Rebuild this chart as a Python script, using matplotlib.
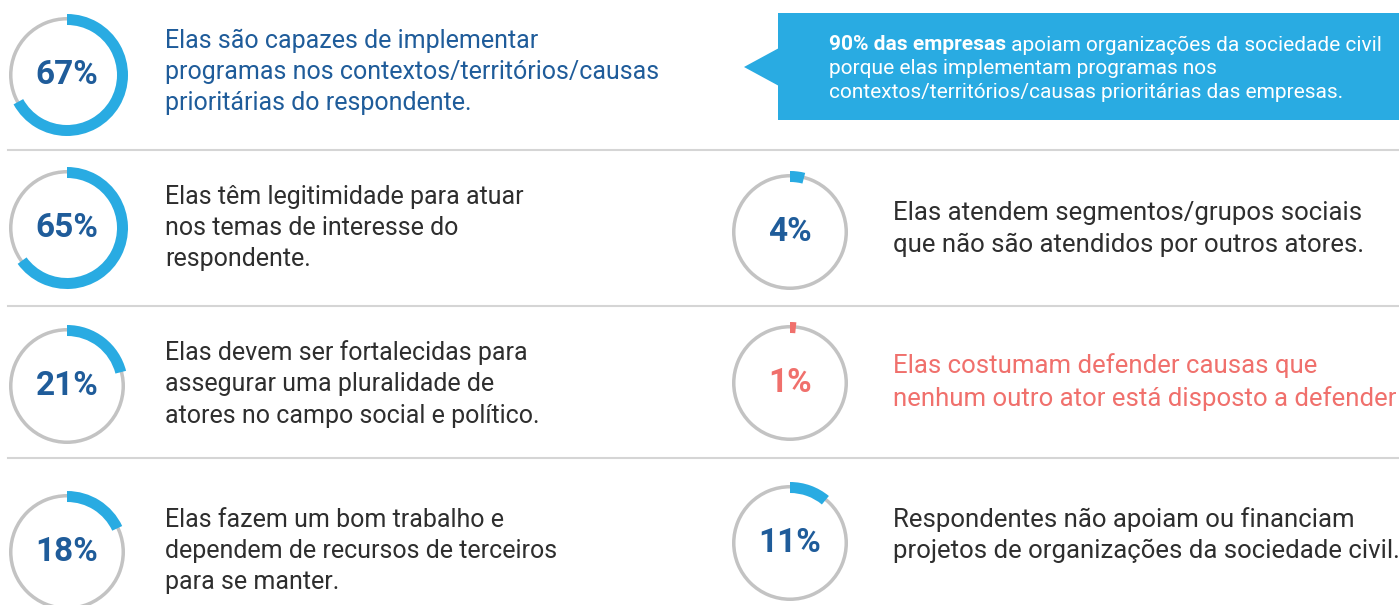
import matplotlib
matplotlib.use("Agg")
import matplotlib.pyplot as plt
from matplotlib.patches import Wedge, Polygon, Rectangle

# ---------------- data ----------------
left_pcts = [67, 65, 21, 18]
left_texts = [
    "Elas são capazes de implementar\nprogramas nos contextos/territórios/causas\nprioritárias do respondente.",
    "Elas têm legitimidade para atuar\nnos temas de interesse do\nrespondente.",
    "Elas devem ser fortalecidas para\nassegurar uma pluralidade de\natores no campo social e político.",
    "Elas fazem um bom trabalho e\ndependem de recursos de terceiros\npara se manter.",
]
right_pcts = [4, 1, 11]
right_texts = [
    "Elas atendem segmentos/grupos sociais\nque não são atendidos por outros atores.",
    "Elas costumam defender causas que\nnenhum outro ator está disposto a defender",
    "Respondentes não apoiam ou financiam\nprojetos de organizações da sociedade civil.",
]
callout_bold = "90% das empresas"
callout_rest = " apoiam organizações da sociedade civil"
callout_lines = ["porque elas implementam programas nos",
                 "contextos/territórios/causas prioritárias das empresas."]

# ---------------- style ----------------
W, H = 1399, 605
BLUE = "#29abe2"
GRAY = "#c3c3c3"
NAVY = "#1f5c9a"
TXT = "#2e2e2e"
RED = "#f0706c"
FONT = "Roboto"
plt.rcParams['font.family'] = [FONT, 'DejaVu Sans']

fig = plt.figure(figsize=(W / 100, H / 100), dpi=100)
ax = fig.add_axes([0, 0, 1, 1])
ax.set_xlim(0, W)
ax.set_ylim(0, H)
ax.set_aspect('equal')
ax.axis('off')

def Y(y):
    return H - y

R_OUT = 61
ARC_W = 11
G_OUT = 58
G_W = 3.5
MIN_DEG = 6  # smallest visible arc

def ring(cx, cy, pct, arc_color, txt_color):
    ax.add_patch(Wedge((cx, Y(cy)), G_OUT, 0, 360, width=G_W, facecolor=GRAY, edgecolor='none'))
    deg = max(360 * pct / 100, MIN_DEG)
    ax.add_patch(Wedge((cx, Y(cy)), R_OUT, 90 - deg, 90, width=ARC_W,
                       facecolor=arc_color, edgecolor='none'))
    ax.text(cx, Y(cy), f"{pct}%", ha='center', va='center', fontsize=24,
            fontweight='bold', color=txt_color)

# separators
for ys in [150, 306, 458]:
    ax.plot([8, W], [Y(ys), Y(ys)], color="#d5d5d5", lw=1.5)

LS = 1.38
# left column
left_cy = [75, 228, 386, 552]
left_ty = [72, 228, 384, 551]
for i, (p, t) in enumerate(zip(left_pcts, left_texts)):
    ring(67, left_cy[i], p, BLUE, NAVY)
    ax.text(165, Y(left_ty[i]), t, ha='left', va='center', fontsize=18,
            color=NAVY if i == 0 else TXT, linespacing=LS)

# right column
right_cy = [232, 383, 543]
right_ty = [229, 382, 535]
for i, (p, t) in enumerate(zip(right_pcts, right_texts)):
    is_red = (p == 1)
    ring(790, right_cy[i], p, RED if is_red else BLUE, RED if is_red else NAVY)
    ax.text(893, Y(right_ty[i]), t, ha='left', va='center', fontsize=18.5,
            color=RED if is_red else TXT, linespacing=LS)

# callout box
ax.add_patch(Rectangle((778, Y(120)), W - 778 + 5, 107, facecolor=BLUE, edgecolor='none'))
ax.add_patch(Polygon([(744, Y(67)), (779, Y(48)), (779, Y(86))], closed=True,
                     facecolor=BLUE, edgecolor='none'))
CS = 15
tb = ax.text(829, Y(45), callout_bold, ha='left', va='center', fontsize=CS,
             fontweight='bold', color='white')
fig.canvas.draw()
bb = tb.get_window_extent()
x_end = ax.transData.inverted().transform((bb.x1, bb.y0))[0]
ax.text(x_end, Y(45), callout_rest, ha='left', va='center', fontsize=CS, color='white')
for k, ln in enumerate(callout_lines):
    ax.text(829, Y(69 + 23.5 * k), ln, ha='left', va='center', fontsize=CS, color='white')

fig.savefig("out.png", dpi=100)
